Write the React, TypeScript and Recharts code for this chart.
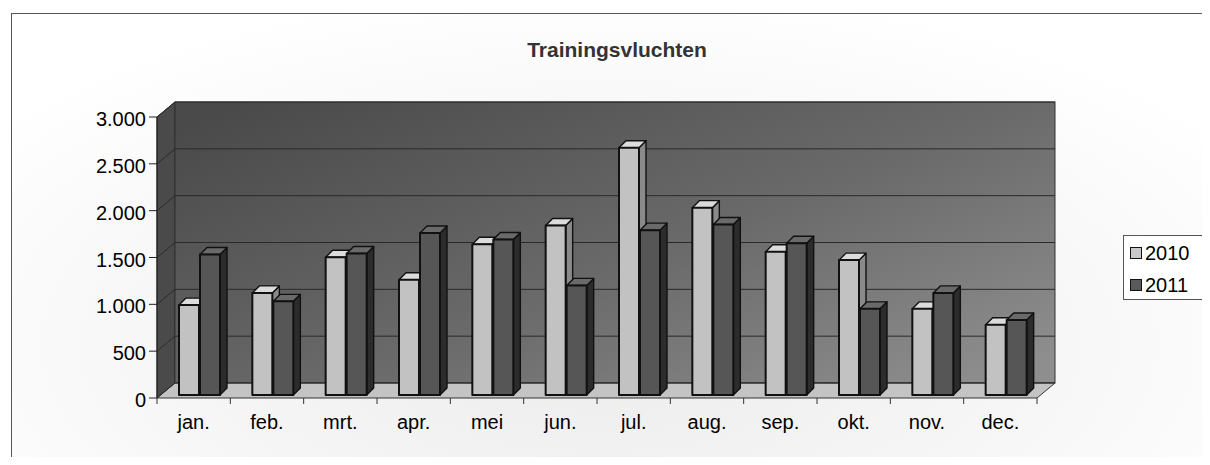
import React from 'react';
import { BarChart, Bar, XAxis, YAxis, CartesianGrid, ReferenceArea, Legend } from 'recharts';

// ---- data ----
const months = ['jan.', 'feb.', 'mrt.', 'apr.', 'mei', 'jun.', 'jul.', 'aug.', 'sep.', 'okt.', 'nov.', 'dec.'];
const flights2010 = [960, 1090, 1470, 1230, 1610, 1810, 2640, 2000, 1530, 1440, 920, 750];
const flights2011 = [1500, 1000, 1510, 1730, 1660, 1170, 1760, 1820, 1620, 920, 1090, 800];
const yTicks = [0, 500, 1000, 1500, 2000, 2500, 3000];
const seriesNames = ['2010', '2011'];
const chartTitle = 'Trainingsvluchten';

const data = months.map((m, i) => ({ month: m, s2010: flights2010[i], s2011: flights2011[i] }));

// ---- style constants ----
const FONT = '"Liberation Sans", Arial, Helvetica, sans-serif';
const DX = 18; // wall depth x
const DY = -15; // wall depth y
const BSX = 6; // bar depth placement
const BSY = -3;
const BDX = 7; // bar thickness
const BDY = -7;

const fmt = (v: number) => {
  if (v < 1000) return String(v);
  const t = Math.floor(v / 1000);
  const r = v % 1000;
  return `${t}.${String(r).padStart(3, '0')}`;
};

const Walls = (p: any) => {
  const { x, y, width, height } = p;
  if (x == null || width == null) return null;
  const L = x, R = x + width, T = y, B = y + height;
  return (
    <g>
      <defs>
        <linearGradient id="wallGrad" x1="0" y1="0.1" x2="1" y2="0.9">
          <stop offset="0" stopColor="#4a4a4a" />
          <stop offset="0.55" stopColor="#6a6a6a" />
          <stop offset="1" stopColor="#8e8e8e" />
        </linearGradient>
      </defs>
      <polygon
        points={`${L},${T} ${L + DX},${T + DY} ${L + DX},${B + DY} ${L},${B}`}
        fill="#4a4a4a"
        stroke="#222"
        strokeWidth={1}
      />
      <rect x={L + DX} y={T + DY} width={width} height={height} fill="url(#wallGrad)" stroke="#333" strokeWidth={1} />
      <polygon
        points={`${L},${B} ${R},${B} ${R + DX},${B + DY} ${L + DX},${B + DY}`}
        fill="#c4c4c4"
        stroke="#333"
        strokeWidth={1}
      />
    </g>
  );
};

const make3DBar = (front: string, top: string, side: string) => (p: any) => {
  const { x, y, width, height } = p;
  if (x == null || width == null || height == null) return null;
  const X = x + BSX;
  const Y = y + BSY;
  const W = width;
  const H = height;
  return (
    <g stroke="#111" strokeLinejoin="round">
      <polygon
        points={`${X + W},${Y} ${X + W + BDX},${Y + BDY} ${X + W + BDX},${Y + H + BDY} ${X + W},${Y + H}`}
        fill={side}
        strokeWidth={1.4}
      />
      <polygon
        points={`${X},${Y} ${X + BDX},${Y + BDY} ${X + W + BDX},${Y + BDY} ${X + W},${Y}`}
        fill={top}
        strokeWidth={1.4}
      />
      <rect x={X} y={Y} width={W} height={H} fill={front} strokeWidth={2} />
    </g>
  );
};

const Bar2010 = make3DBar('#c2c2c2', '#dcdcdc', '#8a8a8a');
const Bar2011 = make3DBar('#565656', '#6a6a6a', '#2c2c2c');

const XTick = (p: any) => {
  const { x, y, payload, index, visibleTicksCount } = p;
  const half = payload && payload.offset ? payload.offset : 880 / 12 / 2;
  return (
    <g>
      <line x1={x - half} y1={y} x2={x - half} y2={y + 6} stroke="#333" />
      {index === visibleTicksCount - 1 && <line x1={x + half} y1={y} x2={x + half} y2={y + 6} stroke="#333" />}
      <text x={x} y={y + 30.5} textAnchor="middle" fontSize={20} fontFamily={FONT} fill="#000">
        {payload.value}
      </text>
    </g>
  );
};

const YTick = (p: any) => {
  const { x, y, payload } = p;
  return (
    <text x={x} y={y + 9} textAnchor="end" fontSize={20} fontFamily={FONT} fill="#000">
      {fmt(payload.value)}
    </text>
  );
};

const swatchFill: Record<string, string> = { '2010': '#c8c8c8', '2011': '#5a5a5a' };

const LegendBox = (props: any) => {
  const payload = props.payload || [];
  return (
    <div
      style={{
        position: 'absolute',
        left: 0,
        top: 0,
        width: 80,
        height: 65,
        border: '1px solid #555',
        background: '#fff',
        boxSizing: 'border-box',
        fontFamily: FONT,
        fontSize: 20,
        color: '#000',
      }}
    >
      {payload.map((e: any, i: number) => (
        <div
          key={i}
          style={{ position: 'absolute', left: 6, top: 5 + i * 32, height: 24, display: 'flex', alignItems: 'center' }}
        >
          <span
            style={{
              display: 'inline-block',
              width: 10,
              height: 10,
              border: '1px solid #111',
              background: swatchFill[e.value] || e.color,
              marginRight: 3,
            }}
          />
          <span style={{ lineHeight: '24px' }}>{e.value}</span>
        </div>
      ))}
    </div>
  );
};

export default function App() {
  return (
    <div
      style={{
        position: 'relative',
        width: 1210,
        height: 465,
        margin: -8,
        overflow: 'hidden',
        background: '#fff',
        fontFamily: FONT,
      }}
    >
      <div
        style={{
          position: 'absolute',
          left: 11,
          top: 13,
          width: 1400,
          height: 600,
          border: '1px solid #555',
          background: 'radial-gradient(ellipse 55% 60% at 42% 55%, #ececec 0%, #f6f6f6 55%, #ffffff 100%)',
        }}
      />
      <div style={{ position: 'absolute', left: 0, top: 0 }}>
        <BarChart
          width={1210}
          height={465}
          data={data}
          margin={{ top: 117, right: 173, bottom: 20, left: 0 }}
          barSize={20}
          barGap={1}
        >
          <ReferenceArea y1={0} y2={3000} shape={Walls} zIndex={-200} ifOverflow="visible" />
          <CartesianGrid
            vertical={false}
            horizontal={(g: any) => (
              <polyline
                key={g.key ?? g.index}
                points={`${g.x1},${g.y1} ${g.x1 + DX},${g.y1 + DY} ${g.x2 + DX},${g.y2 + DY}`}
                fill="none"
                stroke="#2a2a2a"
                strokeWidth={1}
              />
            )}
          />
          <XAxis
            dataKey="month"
            axisLine={false}
            tickLine={false}
            tickSize={0}
            tickMargin={0}
            height={47}
            interval={0}
            tick={(p: any) => <XTick {...p} />}
          />
          <YAxis
            domain={[0, 3000]}
            ticks={yTicks}
            interval={0}
            width={157}
            tickSize={8}
            tickMargin={3}
            axisLine={{ stroke: '#222' }}
            tickLine={{ stroke: '#222' }}
            tick={(p: any) => <YTick {...p} />}
          />
          <Bar dataKey="s2010" name={seriesNames[0]} fill="#c8c8c8" shape={Bar2010} isAnimationActive={false} />
          <Bar dataKey="s2011" name={seriesNames[1]} fill="#5a5a5a" shape={Bar2011} isAnimationActive={false} />
          <Legend
            wrapperStyle={{ position: 'absolute', left: 1123, top: 235, width: 0, height: 0, margin: 0, padding: 0 }}
            content={(props: any) => <LegendBox {...props} />}
          />
        </BarChart>
      </div>
      <div
        style={{
          position: 'absolute',
          left: 417,
          top: 39,
          width: 400,
          textAlign: 'center',
          fontSize: 21,
          lineHeight: '21px',
          fontWeight: 'bold',
          color: '#333',
          fontFamily: FONT,
        }}
      >
        {chartTitle}
      </div>
    </div>
  );
}
